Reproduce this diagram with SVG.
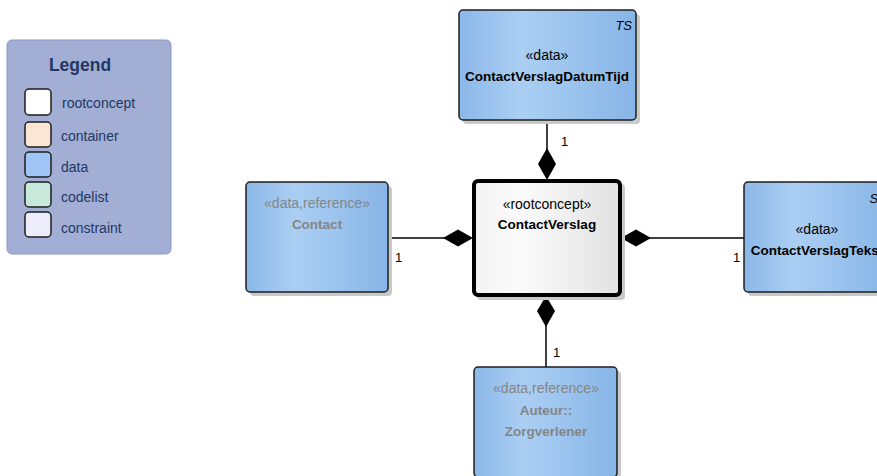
<svg xmlns="http://www.w3.org/2000/svg" width="877" height="476" viewBox="0 0 877 476">
<defs>
<linearGradient id="blue" x1="0" y1="0" x2="1" y2="0">
<stop offset="0" stop-color="#8bb7e8"/>
<stop offset="0.35" stop-color="#abcff3"/>
<stop offset="1" stop-color="#87b5e7"/>
</linearGradient>
<linearGradient id="grey" x1="0" y1="0" x2="1" y2="0">
<stop offset="0" stop-color="#f2f2f2"/>
<stop offset="0.3" stop-color="#fbfbfb"/>
<stop offset="1" stop-color="#e2e2e2"/>
</linearGradient>
</defs>
<style>
text{font-family:"Liberation Sans",Arial,sans-serif;}
.node{fill:url(#blue);stroke:#1e1e1e;stroke-width:1.5;}
.shadow{fill:#c9c9c9;}
.st{font-size:14px;text-anchor:middle;fill:#000;}
.nm{font-size:13.5px;font-weight:bold;text-anchor:middle;fill:#000;}
.ref{fill:#858585;}
.tag{font-size:13px;font-style:italic;text-anchor:end;fill:#000;}
.conn{stroke:#000;stroke-width:1.5;fill:none;}
.dia{fill:#000;}
.mult{font-size:13px;fill:#000;}
.lg{font-size:14px;fill:#1f3864;}
.sw{stroke:#1e1e1e;stroke-width:1.5;}
</style>

<g id="legend">
<rect x="7" y="40" width="164" height="214" rx="5" fill="#a2aed4" stroke="#8d9ac6" stroke-width="1"/>
<text x="80" y="71" font-size="17.5" font-weight="bold" text-anchor="middle" fill="#1f3864">Legend</text>
<rect class="sw" x="25" y="89" width="26" height="26" rx="4" fill="#ffffff" stroke-width="3"/>
<text class="lg" x="62" y="108">rootconcept</text>
<rect class="sw" x="25" y="122" width="26" height="25" rx="4" fill="#fbe6d6"/>
<text class="lg" x="61" y="141">container</text>
<rect class="sw" x="25" y="152" width="26" height="25" rx="4" fill="#9ec5f6"/>
<text class="lg" x="61" y="172">data</text>
<rect class="sw" x="25" y="182" width="26" height="25" rx="4" fill="#c6e9dc"/>
<text class="lg" x="61" y="202">codelist</text>
<rect class="sw" x="25" y="212" width="26" height="25" rx="4" fill="#ececfb"/>
<text class="lg" x="61" y="233">constraint</text>
</g>

<g id="connectors">
<line class="conn" x1="547" y1="120" x2="547" y2="150"/>
<polygon class="dia" points="547,148 556,164 547,180 538,164"/>
<text class="mult" x="561" y="146">1</text>
<line class="conn" x1="388" y1="238" x2="445" y2="238"/>
<polygon class="dia" points="443,238 458,229.5 473,238 458,246.5"/>
<text class="mult" x="395" y="262">1</text>
<line class="conn" x1="649" y1="238" x2="744" y2="238"/>
<polygon class="dia" points="621,238 636,229.5 651,238 636,246.5"/>
<text class="mult" x="733" y="262">1</text>
<line class="conn" x1="546" y1="325" x2="546" y2="367"/>
<polygon class="dia" points="546,296 555,311 546,327 537,311"/>
<text class="mult" x="553" y="357">1</text>
</g>

<g id="node-datumtijd">
<rect class="shadow" x="463" y="14" width="177" height="110" rx="4"/>
<rect class="node" x="459" y="10" width="177" height="110" rx="4"/>
<text class="tag" x="632" y="30">TS</text>
<text class="st" x="547" y="60">«data»</text>
<text class="nm" x="547" y="81">ContactVerslagDatumTijd</text>
</g>

<g id="node-contact">
<rect class="shadow" x="250" y="186" width="142" height="110" rx="4"/>
<rect class="node" x="246" y="182" width="142" height="110" rx="4"/>
<text class="st ref" x="317" y="208">«data,reference»</text>
<text class="nm ref" x="317" y="229">Contact</text>
</g>

<g id="node-contactverslag">
<rect x="477" y="184" width="148" height="116" rx="4" fill="#c9c9c9"/>
<rect x="474" y="181" width="146" height="114" rx="4" fill="url(#grey)" stroke="#000" stroke-width="4"/>
<text class="st" x="547" y="209">«rootconcept»</text>
<text class="nm" x="547" y="229">ContactVerslag</text>
</g>

<g id="node-tekst">
<rect class="shadow" x="748" y="186" width="146" height="110" rx="4"/>
<rect class="node" x="744" y="182" width="146" height="110" rx="4"/>
<text class="tag" x="886" y="203">ST</text>
<text class="st" x="817" y="234">«data»</text>
<text class="nm" x="817" y="255">ContactVerslagTekst</text>
</g>

<g id="node-auteur">
<rect class="shadow" x="478" y="371" width="143" height="110" rx="4"/>
<rect class="node" x="474" y="367" width="143" height="110" rx="4"/>
<text class="st ref" x="546" y="393">«data,reference»</text>
<text class="nm ref" x="546" y="415">Auteur::</text>
<text class="nm ref" x="546" y="436">Zorgverlener</text>
</g>
</svg>
